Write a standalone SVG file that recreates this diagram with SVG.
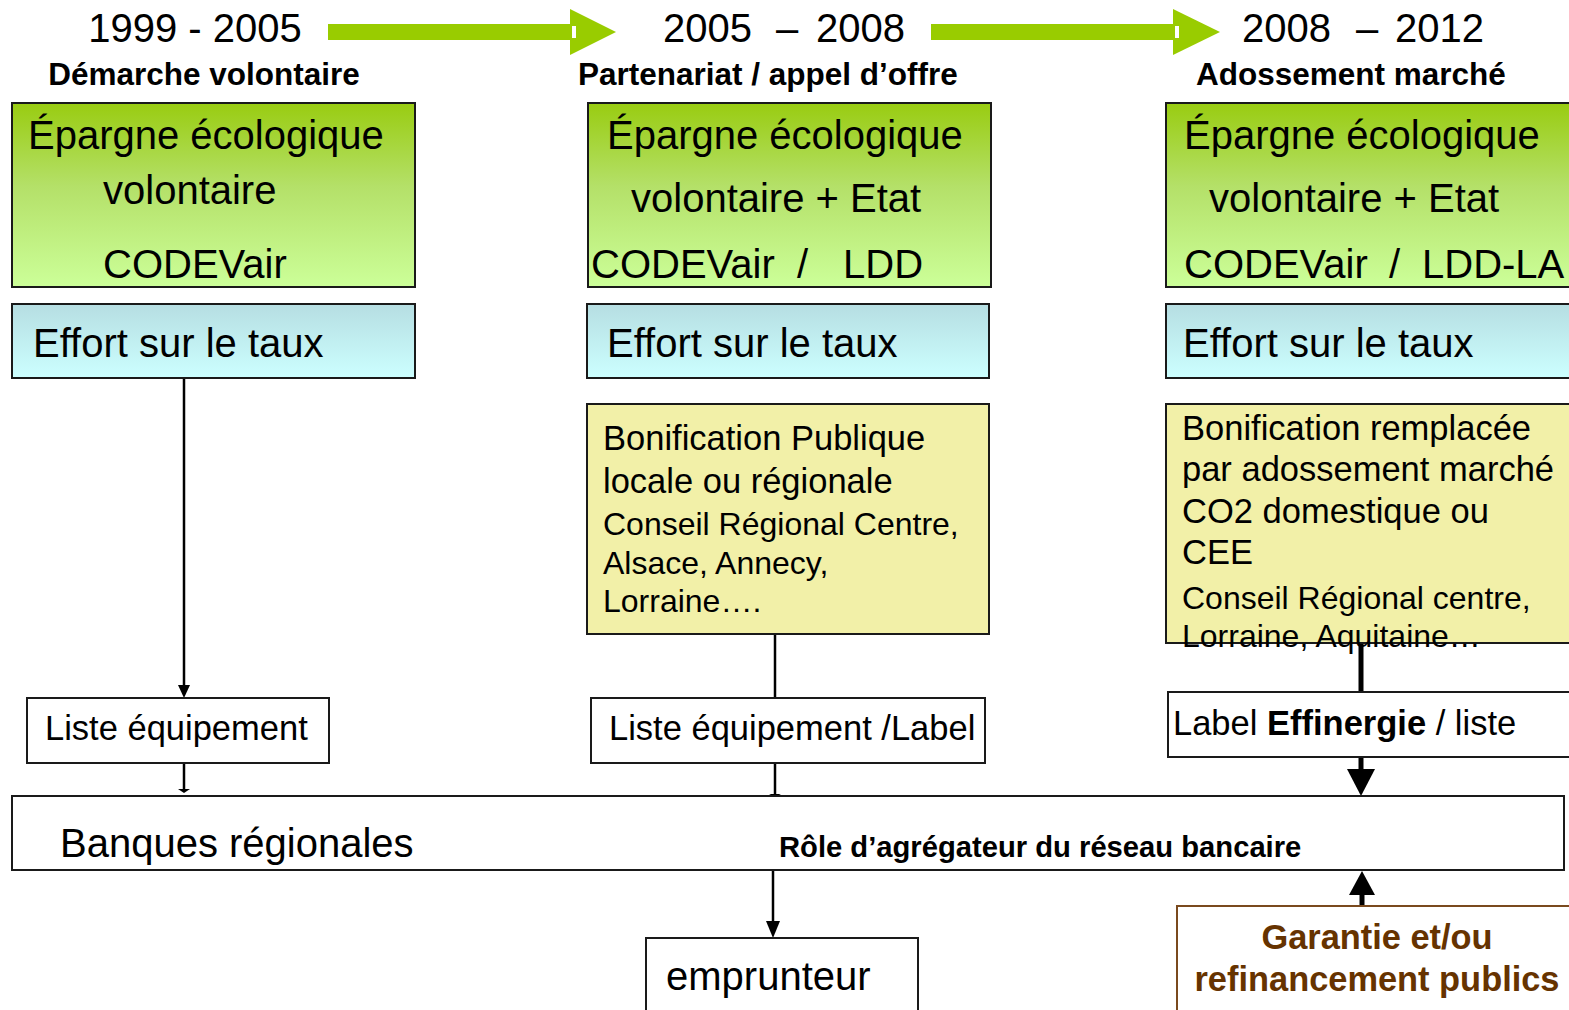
<svg xmlns="http://www.w3.org/2000/svg" width="1569" height="1010" viewBox="0 0 1569 1010">
<defs>
<linearGradient id="gGreen" x1="0" y1="0" x2="0" y2="1">
<stop offset="0" stop-color="#99CC11"/>
<stop offset="0.45" stop-color="#B4E068"/>
<stop offset="1" stop-color="#CCFF99"/>
</linearGradient>
<linearGradient id="gBlue" x1="0" y1="0" x2="0" y2="1">
<stop offset="0" stop-color="#B6DEE2"/>
<stop offset="1" stop-color="#CCFFFF"/>
</linearGradient>
<style>
text{font-family:"Liberation Sans",Arial,sans-serif;fill:#000;white-space:pre}
.box{stroke:#1a1a1a;stroke-width:2}
.green{fill:url(#gGreen)}
.blue{fill:url(#gBlue)}
.yellow{fill:#F2F0A8}
.white{fill:#fff}
.year{font-size:40px}
.phase{font-size:31.5px;font-weight:bold}
.big{font-size:40px}
.mid{font-size:34.5px}
.small{font-size:32px}
.conn{stroke:#000;stroke-width:2.5;fill:none}
.thick{stroke:#000;stroke-width:5;fill:none}
.head{fill:#000}
.garrow{fill:#99CC00}
.brown{fill:#663300;font-size:34.4px;font-weight:bold}
</style>
</defs>

<g id="timeline">
<rect class="garrow" x="328" y="24" width="245" height="16"/>
<polygon class="garrow" points="570,9 616,32 570,55"/>
<rect fill="#fff" x="572" y="26" width="4" height="12"/>
<rect class="garrow" x="931" y="24" width="245" height="16"/>
<polygon class="garrow" points="1173,9 1220,32 1173,55"/>
<rect fill="#fff" x="1175" y="26" width="4" height="12"/>
<text class="year" x="195" y="42" text-anchor="middle">1999 - 2005</text>
<text class="year" y="42"><tspan x="663">2005</tspan><tspan x="776">–</tspan><tspan x="816">2008</tspan></text>
<text class="year" y="42"><tspan x="1242">2008</tspan><tspan x="1356">–</tspan><tspan x="1395">2012</tspan></text>
<text class="phase" x="204" y="85" text-anchor="middle">Démarche volontaire</text>
<text class="phase" x="578" y="85">Partenariat / appel d’offre</text>
<text class="phase" x="1196" y="85">Adossement marché</text>
</g>

<g id="connectors">
<line class="conn" x1="184" y1="373" x2="184" y2="688"/>
<polygon class="head" points="178,685 190,685 184,698"/>
<line class="conn" x1="184" y1="758" x2="184" y2="790"/>
<polygon class="head" points="178,789 190,789 184,793"/>
<line class="conn" x1="775" y1="634" x2="775" y2="700"/>
<polygon class="head" points="769,697 781,697 775,704"/>
<line class="conn" x1="775" y1="763" x2="775" y2="795"/>
<polygon class="head" points="769,794 781,794 775,797"/>
<line class="conn" x1="773" y1="866" x2="773" y2="925"/>
<polygon class="head" points="766,921 780,921 773,938"/>
<line class="thick" x1="1361" y1="643" x2="1361" y2="692"/>
<line class="thick" x1="1361" y1="757" x2="1361" y2="772"/>
<polygon class="head" points="1347,769 1375,769 1361,796"/>
<line class="thick" x1="1362" y1="906" x2="1362" y2="893"/>
<polygon class="head" points="1349,895 1375,895 1362,871"/>
</g>

<g id="epargne1">
<rect class="box green" x="12" y="103" width="403" height="184"/>
<text class="big" x="28" y="149">Épargne écologique</text>
<text class="big" x="103" y="204">volontaire</text>
<text class="big" x="103" y="278">CODEVair</text>
</g>
<g id="epargne2">
<rect class="box green" x="588" y="103" width="403" height="184"/>
<text class="big" x="607" y="149">Épargne écologique</text>
<text class="big" x="631" y="212">volontaire + Etat</text>
<text class="big" x="591" y="278">CODEVair</text>
<text class="big" x="797" y="278">/</text>
<text class="big" x="843" y="278">LDD</text>
</g>
<g id="epargne3">
<rect class="box green" x="1166" y="103" width="410" height="184"/>
<text class="big" x="1184" y="149">Épargne écologique</text>
<text class="big" x="1209" y="212">volontaire + Etat</text>
<text class="big" x="1184" y="278">CODEVair</text>
<text class="big" x="1389" y="278">/</text>
<text class="big" x="1422" y="278">LDD-LA</text>
</g>

<g id="effort1">
<rect class="box blue" x="12" y="304" width="403" height="74"/>
<text class="big" x="33" y="357">Effort sur le taux</text>
</g>
<g id="effort2">
<rect class="box blue" x="587" y="304" width="402" height="74"/>
<text class="big" x="607" y="357">Effort sur le taux</text>
</g>
<g id="effort3">
<rect class="box blue" x="1166" y="304" width="410" height="74"/>
<text class="big" x="1183" y="357">Effort sur le taux</text>
</g>

<g id="bonif2">
<rect class="box yellow" x="587" y="404" width="402" height="230"/>
<text class="mid" x="603" y="450">Bonification Publique</text>
<text class="mid" x="603" y="493">locale ou régionale</text>
<text class="small" x="603" y="535">Conseil Régional Centre,</text>
<text class="small" x="603" y="574">Alsace, Annecy,</text>
<text class="small" x="603" y="612">Lorraine….</text>
</g>
<g id="bonif3">
<rect class="box yellow" x="1166" y="404" width="410" height="239"/>
<text class="mid" x="1182" y="440">Bonification remplacée</text>
<text class="mid" x="1182" y="481">par adossement marché</text>
<text class="mid" x="1182" y="523">CO2 domestique ou</text>
<text class="mid" x="1182" y="564">CEE</text>
<text class="small" x="1182" y="609">Conseil Régional centre,</text>
<text class="small" x="1182" y="647">Lorraine, Aquitaine…</text>
</g>

<g id="liste1">
<rect class="box white" x="27" y="698" width="302" height="65"/>
<text class="mid" x="45" y="740">Liste équipement</text>
</g>
<g id="liste2">
<rect class="box white" x="591" y="698" width="394" height="65"/>
<text class="mid" x="609" y="740">Liste équipement /Label</text>
</g>
<g id="label3">
<rect class="box white" x="1168" y="692" width="408" height="65"/>
<text class="mid" x="1173" y="735">Label <tspan font-weight="bold">Effinergie</tspan> / liste</text>
</g>

<g id="banques">
<rect class="box white" x="12" y="796" width="1552" height="74"/>
<text class="big" x="60" y="857">Banques régionales</text>
<text x="779" y="857" font-size="29.2" font-weight="bold">Rôle d’agrégateur du réseau bancaire</text>
</g>

<g id="emprunteur">
<rect class="box white" x="646" y="938" width="272" height="80"/>
<text class="big" x="666" y="990">emprunteur</text>
</g>

<g id="garantie">
<rect fill="#fff" stroke="#7A4A1E" stroke-width="2" x="1177" y="906" width="400" height="110"/>
<text class="brown" x="1377" y="949" text-anchor="middle">Garantie et/ou</text>
<text class="brown" x="1377" y="991" text-anchor="middle">refinancement publics</text>
</g>
</svg>
